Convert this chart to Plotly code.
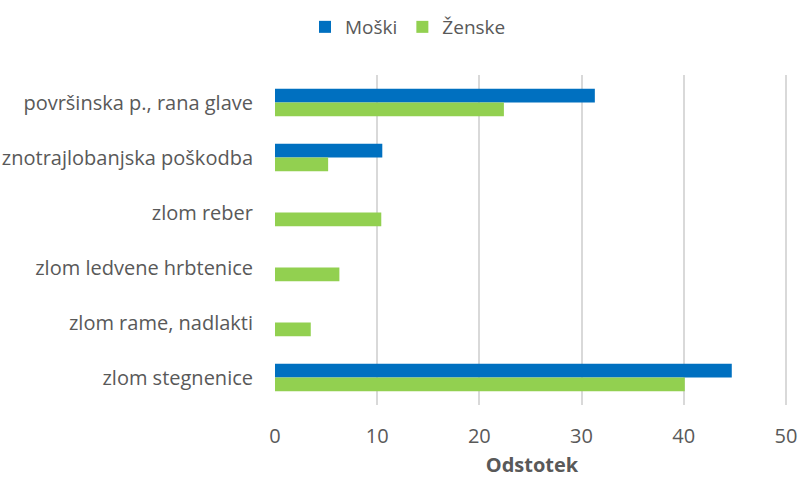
import plotly.graph_objects as go

categories = [
    "površinska p., rana glave",
    "znotrajlobanjska poškodba",
    "zlom reber",
    "zlom ledvene hrbtenice",
    "zlom rame, nadlakti",
    "zlom stegnenice",
]
moski = [31.3, 10.5, 0, 0, 0, 44.7]
zenske = [22.4, 5.2, 10.4, 6.3, 3.5, 40.1]
x_ticks = [0, 10, 20, 30, 40, 50]

FONT = "Open Sans"
GRAY = "#595959"
FS = 20

W, H = 800, 478

fig = go.Figure()
fig.add_trace(go.Bar(name="Moški", y=categories, x=moski, orientation="h",
                     marker=dict(color="#0070C0", line=dict(width=0))))
fig.add_trace(go.Bar(name="Ženske", y=categories, x=zenske, orientation="h",
                     marker=dict(color="#92D050", line=dict(width=0))))

fig.update_layout(
    width=W, height=H,
    margin=dict(l=275, r=11, t=75, b=73),
    barmode="group", bargap=0.5, bargroupgap=0,
    plot_bgcolor="white", paper_bgcolor="white",
    font=dict(family=FONT, size=FS, color=GRAY),
    showlegend=True,
    legend=dict(orientation="h", xref="container", yref="container",
                x=408 / W, y=1 - 27 / H,
                xanchor="center", yanchor="middle",
                font=dict(size=19, color=GRAY), itemwidth=30,
                traceorder="normal"),
    xaxis=dict(range=[0, 50.3], tickvals=x_ticks, showgrid=True,
               gridcolor="#D9D9D9", gridwidth=2, zeroline=False,
               showline=False, ticks="outside", ticklen=13,
               tickcolor="rgba(0,0,0,0)", automargin=False,
               tickfont=dict(size=FS, color=GRAY),
               title=dict(text="<b>Odstotek</b>", standoff=18,
                          font=dict(size=FS, color=GRAY))),
    yaxis=dict(autorange="reversed", showgrid=False, zeroline=False,
               showline=False, ticks="outside", ticklen=17,
               tickcolor="rgba(0,0,0,0)", automargin=False,
               tickfont=dict(size=FS, color=GRAY)),
)

fig.write_html(
    "out.html",
    config={"displayModeBar": False},
    post_script="document.body.style.margin='0';document.body.style.overflow='hidden';",
)
